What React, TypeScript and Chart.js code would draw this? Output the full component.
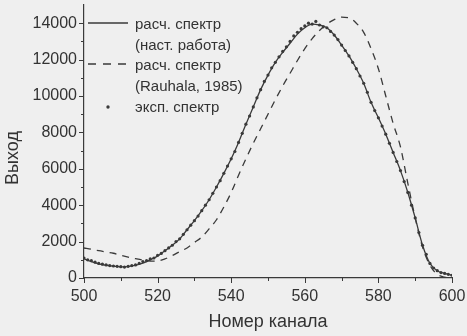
import React, { useEffect, useRef } from "react";
import { Chart, registerables } from "chart.js";

Chart.register(...registerables);

// ---- data ----
const calcChannels = [
  500, 502, 504, 506, 508, 510, 512, 514, 516, 518, 520, 522, 524, 526, 528, 530, 532, 534, 536, 538,
  540, 542, 544, 546, 548, 550, 552, 554, 556, 558, 560, 562, 564, 566, 568, 570, 572, 574, 576, 578,
  580, 582, 584, 586, 588, 590, 592, 594, 596, 598, 600,
];
const calcThisWork = [
  1050, 900, 780, 700, 650, 610, 620, 700, 820, 1000, 1200, 1500, 1800, 2150, 2650, 3150, 3700, 4300, 5000, 5750,
  6550, 7450, 8450, 9400, 10350, 11150, 11850, 12400, 12900, 13400, 13750, 13950, 13900, 13750, 13350, 12800, 12200, 11500, 10700, 9650,
  8800, 7900, 6900, 5900, 4700, 3300, 1800, 800, 400, 250, 150,
];
const calcRauhala = [
  1650, 1580, 1500, 1430, 1360, 1250, 1150, 1060, 980, 930, 940, 1050, 1230, 1450, 1650, 1950, 2250, 2700, 3200, 3900,
  4700, 5650, 6550, 7400, 8200, 9000, 9800, 10550, 11250, 11950, 12600, 13150, 13600, 13950, 14200, 14330, 14300, 14000, 13500, 12600,
  11500, 10000, 8500, 7200, 5200, 3300, 1700, 700, 200, 50, 0,
];
const expChannels = [
  500, 501, 502, 503, 504, 505, 506, 507, 508, 509, 510, 511, 512, 513, 514, 515, 516, 517, 518, 519,
  520, 521, 522, 523, 524, 525, 526, 527, 528, 529, 530, 531, 532, 533, 534, 535, 536, 537, 538, 539,
  540, 541, 542, 543, 544, 545, 546, 547, 548, 549, 550, 551, 552, 553, 554, 555, 556, 557, 558, 559,
  560, 561, 562, 563, 564, 565, 566, 567, 568, 569, 570, 571, 572, 573, 574, 575, 576, 577, 578, 579,
  580, 581, 582, 583, 584, 585, 586, 587, 588, 589, 590, 591, 592, 593, 594, 595, 596, 597, 598, 599, 600,
];
const expSpectrum = [
  1100, 1000, 950, 870, 800, 760, 720, 680, 660, 640, 620, 600, 640, 680, 720, 800, 900, 950, 1050, 1100,
  1250, 1350, 1500, 1650, 1800, 2000, 2150, 2400, 2650, 2900, 3150, 3400, 3700, 4000, 4300, 4650, 5000, 5350, 5750, 6150,
  6550, 6950, 7450, 7950, 8450, 8900, 9400, 9900, 10350, 10800, 11150, 11550, 11850, 12150, 12450, 12700, 13000, 13300, 13500, 13700,
  13850, 14000, 13950, 14100, 13900, 13800, 13750, 13550, 13350, 13100, 12800, 12500, 12200, 11850, 11500, 11100, 10700, 10200, 9650, 9200,
  8800, 8350, 7900, 7400, 6900, 6400, 5900, 5300, 4700, 4000, 3300, 2500, 1800, 1300, 800, 550, 400, 300, 250, 200, 150,
];

const xTickLabels = [500, 520, 540, 560, 580, 600];
const yTickLabels = [0, 2000, 4000, 6000, 8000, 10000, 12000, 14000];

const xMin = 500;
const xMax = 600;
const xMajorStep = 20;
const xMinorStep = 10;
const yMin = 0;
const yMax = 15000;
const yMajorStep = 2000;
const yMinorStep = 1000;

const legendLines = ["расч. спектр", "(наст. работа)", "расч. спектр", "(Rauhala, 1985)", "эксп. спектр"];
const xTitle = "Номер канала";
const yTitle = "Выход";

const INK = "#333333";
const LINE = "#3a3a3a";
const BG = "#efefef";
const FONT = "'Liberation Sans', Arial, sans-serif";

const decorPlugin = {
  id: "decor",
  beforeDraw(chart: any) {
    const { ctx, width, height } = chart;
    ctx.save();
    ctx.fillStyle = BG;
    ctx.fillRect(0, 0, width, height);
    ctx.restore();
  },
  afterDraw(chart: any) {
    const { ctx, chartArea } = chart;
    const xs = chart.scales.x;
    const ys = chart.scales.y;
    ctx.save();
    ctx.strokeStyle = LINE;
    ctx.lineWidth = 1;
    // y ticks
    for (let v = yMin; v < yMax; v += yMinorStep) {
      const y = Math.round(ys.getPixelForValue(v)) + 0.5;
      const major = v % yMajorStep === 0;
      const len = major ? 5 : 3;
      ctx.beginPath();
      ctx.moveTo(chartArea.left - len, y);
      ctx.lineTo(chartArea.left, y);
      ctx.stroke();
    }
    // x ticks
    for (let v = xMin; v <= xMax; v += xMinorStep) {
      const x = Math.round(xs.getPixelForValue(v)) + 0.5;
      const major = v % xMajorStep === 0;
      const len = major ? 5 : 3;
      ctx.beginPath();
      ctx.moveTo(x, chartArea.bottom);
      ctx.lineTo(x, chartArea.bottom + len);
      ctx.stroke();
    }
    // y title
    ctx.fillStyle = INK;
    ctx.font = `18px ${FONT}`;
    ctx.textAlign = "center";
    ctx.textBaseline = "middle";
    ctx.translate(13, 158);
    ctx.rotate(-Math.PI / 2);
    ctx.fillText(yTitle, 0, 0);
    ctx.setTransform(1, 0, 0, 1, 0, 0);

    // legend
    const lx0 = 88;
    const lx1 = 128;
    const tx = 135;
    const rows = [25, 46, 66, 87, 108];
    ctx.font = `15px ${FONT}`;
    ctx.textAlign = "left";
    ctx.textBaseline = "middle";
    legendLines.forEach((t, i) => ctx.fillText(t, tx, rows[i]));
    ctx.strokeStyle = LINE;
    ctx.lineWidth = 1.3;
    ctx.beginPath();
    ctx.moveTo(lx0, 23);
    ctx.lineTo(lx1, 23);
    ctx.stroke();
    ctx.setLineDash([8, 7]);
    ctx.beginPath();
    ctx.moveTo(lx0, 64);
    ctx.lineTo(lx1, 64);
    ctx.stroke();
    ctx.setLineDash([]);
    ctx.fillStyle = LINE;
    ctx.beginPath();
    ctx.arc(108, 107, 1.7, 0, Math.PI * 2);
    ctx.fill();
    ctx.restore();
  },
};

export default function App() {
  const ref = useRef<HTMLCanvasElement | null>(null);
  useEffect(() => {
    if (!ref.current) return;
    const toXY = (xs: number[], ys: number[]) => xs.map((x, i) => ({ x, y: ys[i] }));
    const chart = new Chart(ref.current, {
      type: "line",
      data: {
        datasets: [
          {
            label: "расч. спектр (наст. работа)",
            data: toXY(calcChannels, calcThisWork),
            borderColor: LINE,
            borderWidth: 1.3,
            pointRadius: 0,
            cubicInterpolationMode: "monotone",
            fill: false,
          },
          {
            label: "расч. спектр (Rauhala, 1985)",
            data: toXY(calcChannels, calcRauhala),
            borderColor: LINE,
            borderWidth: 1.3,
            borderDash: [7, 6],
            pointRadius: 0,
            cubicInterpolationMode: "monotone",
            fill: false,
          },
          {
            label: "эксп. спектр",
            data: toXY(expChannels, expSpectrum),
            showLine: false,
            borderColor: LINE,
            backgroundColor: LINE,
            pointRadius: 1.6,
            pointBorderWidth: 0,
          },
        ],
      },
      options: {
        animation: false,
        responsive: false,
        maintainAspectRatio: false,
        layout: { padding: { left: 0, top: 5, right: 15, bottom: 0 } },
        plugins: { legend: { display: false }, tooltip: { enabled: false } },
        scales: {
          x: {
            type: "linear",
            min: xMin,
            max: xMax,
            afterBuildTicks: (s: any) => {
              s.ticks = xTickLabels.map((v) => ({ value: v }));
            },
            afterFit: (s: any) => {
              s.height = 58;
              s.paddingLeft = 0;
              s.paddingRight = 0;
              s.paddingTop = 0;
              s.paddingBottom = 0;
            },
            ticks: {
              color: INK,
              font: { family: FONT, size: 16 },
              padding: 9,
              maxRotation: 0,
              autoSkip: false,
              callback: (v: any) => String(v),
            },
            grid: { display: false, drawTicks: false, tickLength: 0 },
            border: { display: true, color: LINE, width: 1.2 },
            title: {
              display: true,
              text: xTitle,
              color: INK,
              font: { family: FONT, size: 18 },
              padding: { top: 0, bottom: 3 },
            },
          },
          y: {
            type: "linear",
            min: yMin,
            max: yMax,
            afterBuildTicks: (s: any) => {
              s.ticks = yTickLabels.map((v) => ({ value: v }));
            },
            afterFit: (s: any) => {
              s.width = 84;
              s.paddingLeft = 0;
              s.paddingRight = 0;
              s.paddingTop = 0;
              s.paddingBottom = 0;
            },
            ticks: {
              autoSkip: false,
              color: INK,
              font: { family: FONT, size: 16 },
              padding: 7,
              callback: (v: any) => String(v),
            },
            grid: { display: false, drawTicks: false, tickLength: 0 },
            border: { display: true, color: LINE, width: 1.2 },
          },
        },
      },
      plugins: [decorPlugin],
    });
    return () => chart.destroy();
  }, []);
  return (
    <div style={{ position: "fixed", left: 0, top: 0, width: 467, height: 336 }}>
      <canvas ref={ref} width={467} height={336} style={{ display: "block" }} />
    </div>
  );
}
